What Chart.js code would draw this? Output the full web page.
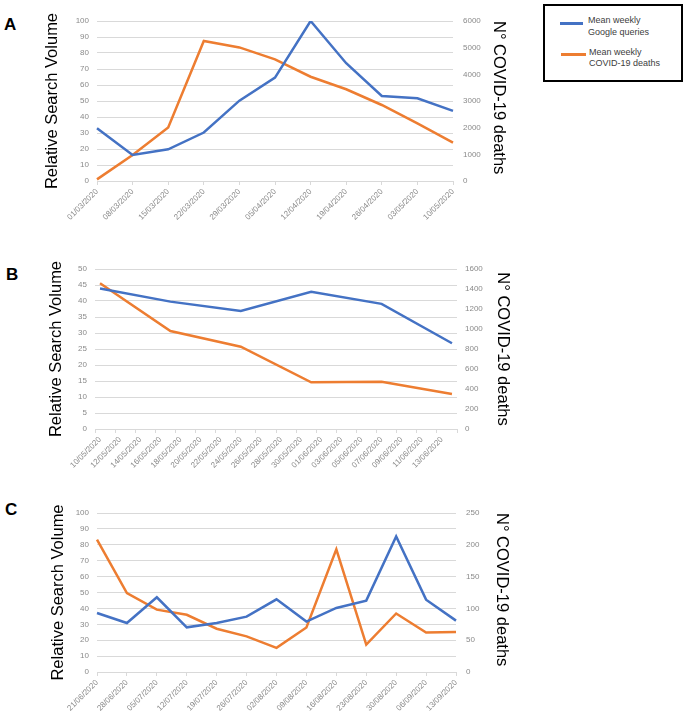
<!DOCTYPE html>
<html>
<head>
<meta charset="utf-8">
<script src="https://cdn.jsdelivr.net/npm/chart.js@4.4.1/dist/chart.umd.min.js"></script>
<style>
  html, body { margin: 0; padding: 0; background: #fff; }
  body { width: 685px; height: 712px; position: relative; overflow: hidden; font-family: "Liberation Sans", Arial, sans-serif; }
  canvas { position: absolute; left: 0; }
  .letter { position: absolute; font-weight: bold; font-size: 17px; line-height: 1; color: #000; }
  #legend { position: absolute; left: 543px; top: 4px; width: 136px; height: 74px; border: 2px solid #000; }
  .swatch { position: absolute; height: 2.5px; }
  .ltext { position: absolute; font-size: 9px; color: #404040; white-space: nowrap; }
</style>
</head>
<body>
<div class="letter" style="left:4px;top:16px">A</div>
<div class="letter" style="left:6px;top:266px">B</div>
<div class="letter" style="left:5px;top:501px">C</div>

<canvas id="chart-a" width="530" height="245" style="top:0"></canvas>
<canvas id="chart-b" width="530" height="245" style="top:245px"></canvas>
<canvas id="chart-c" width="530" height="222" style="top:490px"></canvas>

<div id="legend"></div>
<div class="swatch" style="left:560px;top:22px;width:23px;background:#4472C4"></div>
<div class="ltext" style="left:588px;top:14px;line-height:12px">Mean weekly<br>Google queries</div>
<div class="swatch" style="left:561px;top:53px;width:25px;background:#ED7D31"></div>
<div class="ltext" style="left:589px;top:47px;line-height:11px">Mean weekly<br>COVID-19 deaths</div>

<script>
const blue = "#4472C4";
const orange = "#ED7D31";
const tickGray = "#8a8a8a";
const gridGray = "#d9d9d9";
const family = "'Liberation Sans', Arial, sans-serif";

// panel A
const aWeeks = ["01/03/2020", "08/03/2020", "15/03/2020", "22/03/2020", "29/03/2020", "05/04/2020",
  "12/04/2020", "19/04/2020", "26/04/2020", "03/05/2020", "10/05/2020"];
const aQueries = [33, 16.3, 19.8, 30.3, 50.2, 64.6, 100, 73.6, 53.1, 51.7, 43.8];
const aDeaths = [60, 975, 2010, 5250, 5010, 4560, 3910, 3440, 2850, 2160, 1440];
const aLeftTicks = [0, 10, 20, 30, 40, 50, 60, 70, 80, 90, 100];
const aRightTicks = [0, 1000, 2000, 3000, 4000, 5000, 6000];

// panel B (daily date axis, weekly points)
const bDays = ["10/05/2020", "11/05/2020", "12/05/2020", "13/05/2020", "14/05/2020", "15/05/2020",
  "16/05/2020", "17/05/2020", "18/05/2020", "19/05/2020", "20/05/2020", "21/05/2020", "22/05/2020",
  "23/05/2020", "24/05/2020", "25/05/2020", "26/05/2020", "27/05/2020", "28/05/2020", "29/05/2020",
  "30/05/2020", "31/05/2020", "01/06/2020", "02/06/2020", "03/06/2020", "04/06/2020", "05/06/2020",
  "06/06/2020", "07/06/2020", "08/06/2020", "09/06/2020", "10/06/2020", "11/06/2020", "12/06/2020",
  "13/06/2020", "14/06/2020"];
const bWeeks = ["10/05/2020", "17/05/2020", "24/05/2020", "31/05/2020", "07/06/2020", "14/06/2020"];
const bQueries = [43.9, 39.8, 36.9, 42.9, 39.1, 26.8];
const bDeaths = [1457, 980, 823, 467, 473, 350];
const bLeftTicks = [0, 5, 10, 15, 20, 25, 30, 35, 40, 45, 50];
const bRightTicks = [0, 200, 400, 600, 800, 1000, 1200, 1400, 1600];

// panel C
const cWeeks = ["21/06/2020", "28/06/2020", "05/07/2020", "12/07/2020", "19/07/2020", "26/07/2020",
  "02/08/2020", "09/08/2020", "16/08/2020", "23/08/2020", "30/08/2020", "06/09/2020", "13/09/2020"];
const cQueries = [37.1, 30.8, 47, 28.1, 30.8, 34.8, 45.7, 31.7, 40.3, 44.9, 85.3, 45.5, 32.3];
const cDeaths = [208, 124, 98, 90, 68, 56, 38, 70, 193, 43, 92, 62, 63];
const cLeftTicks = [0, 10, 20, 30, 40, 50, 60, 70, 80, 90, 100];
const cRightTicks = [0, 50, 100, 150, 200, 250];

function axisRange(ticks) {
  return { min: ticks[0], max: ticks[ticks.length - 1], stepSize: ticks[1] - ticks[0] };
}

function allLabels(v) {
  return this.getLabelForValue(v);
}

function makeChart(el, p) {
  const W = el.width, H = el.height;
  const left = axisRange(p.leftTicks);
  const right = axisRange(p.rightTicks);
  const lineStyle = { borderWidth: 2.5, pointRadius: 0, tension: 0, spanGaps: true, fill: false };

  new Chart(el, {
    type: "line",
    data: {
      labels: p.labels,
      datasets: [
        { ...lineStyle, label: "Mean weekly Google queries", data: p.queries, yAxisID: "y", borderColor: blue },
        { ...lineStyle, label: "Mean weekly COVID-19 deaths", data: p.deaths, yAxisID: "y1", borderColor: orange },
      ],
    },
    options: {
      responsive: false,
      animation: false,
      events: [],
      layout: { padding: { top: p.top, left: 0, right: 0, bottom: 0 } },
      plugins: { legend: { display: false }, tooltip: { enabled: false } },
      scales: {
        x: {
          offset: p.offset,
          grid: {
            drawOnChartArea: false,
            drawTicks: true,
            tickLength: 4,
            offset: p.offset,
            tickColor: p.tickColor || gridGray,
          },
          border: { display: true, color: gridGray },
          ticks: {
            autoSkip: false,
            minRotation: 45,
            maxRotation: 45,
            padding: 2,
            color: tickGray,
            font: { size: 8, family },
            callback: p.xLabel || allLabels,
          },
          afterFit: (s) => { s.height = H - p.bottom; },
        },
        y: {
          position: "left",
          min: left.min,
          max: left.max,
          ticks: { stepSize: left.stepSize, padding: 8, color: tickGray, font: { size: 8, family }, callback: (v) => v },
          grid: { color: gridGray, drawTicks: false },
          border: { display: false },
          title: {
            display: true,
            text: "Relative Search Volume",
            color: "#000",
            font: { size: 16.5, family, lineHeight: 1.2 },
            padding: { top: p.leftTitle, bottom: 0 },
          },
          afterFit: (s) => { s.width = p.left; },
        },
        y1: {
          position: "right",
          min: right.min,
          max: right.max,
          ticks: { stepSize: right.stepSize, padding: p.rightPad, color: tickGray, font: { size: 8, family }, callback: (v) => v },
          grid: { display: false, drawTicks: false },
          border: { display: false },
          title: {
            display: true,
            text: "N° COVID-19 deaths",
            color: "#000",
            align: p.rightAlign,
            font: { size: 16.5, family, lineHeight: 1.2 },
            padding: { top: p.rightTitle, bottom: 0 },
          },
          afterFit: (s) => { s.width = W - p.right; },
        },
      },
    },
  });
}

function run() {
  if (typeof Chart === "undefined") return;

  makeChart(document.getElementById("chart-a"), {
    labels: aWeeks, queries: aQueries, deaths: aDeaths,
    leftTicks: aLeftTicks, rightTicks: aRightTicks,
    offset: false, top: 21, bottom: 181, left: 97, right: 453,
    leftTitle: 42.6, rightTitle: 21.1, rightPad: 10, rightAlign: "end",
  });

  makeChart(document.getElementById("chart-b"), {
    labels: bDays,
    queries: bWeeks.map((d, i) => ({ x: d, y: bQueries[i] })),
    deaths: bWeeks.map((d, i) => ({ x: d, y: bDeaths[i] })),
    leftTicks: bLeftTicks, rightTicks: bRightTicks,
    offset: true, top: 24, bottom: 184, left: 95, right: 457,
    leftTitle: 46.6, rightTitle: 17.1, rightPad: 8, rightAlign: "center",
    // date axis: label and tick mark every second day
    xLabel: function (v, i) { return i % 2 === 0 ? this.getLabelForValue(v) : ""; },
    tickColor: (ctx) => (ctx.type !== "tick" || ctx.index % 2 === 0 ? gridGray : "rgba(0,0,0,0)"),
  });

  makeChart(document.getElementById("chart-c"), {
    labels: cWeeks, queries: cQueries, deaths: cDeaths,
    leftTicks: cLeftTicks, rightTicks: cRightTicks,
    offset: false, top: 23, bottom: 182, left: 97, right: 456,
    leftTitle: 48.1, rightTitle: 18.6, rightPad: 10, rightAlign: "end",
  });
}

if (document.readyState === "loading") {
  document.addEventListener("DOMContentLoaded", run);
} else {
  run();
}
</script>
</body>
</html>
